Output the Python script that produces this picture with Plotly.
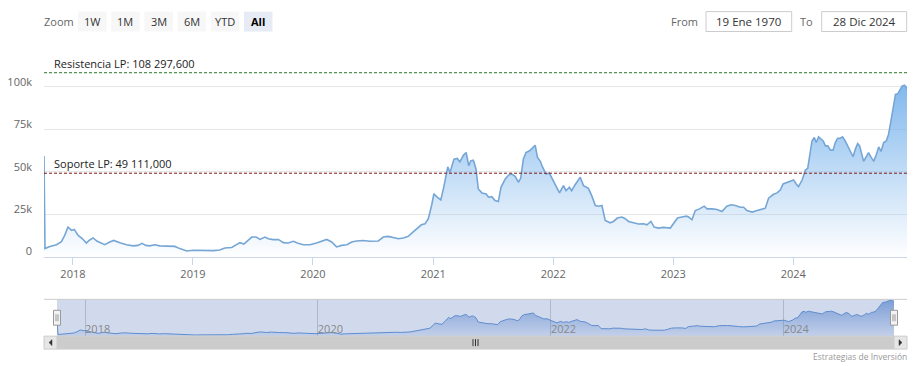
import plotly.graph_objects as go

# ---------------- data ----------------
dates = [
    "2017-10-05", "2017-10-08", "2017-10-23", "2017-11-12", "2017-11-27", "2017-12-07", "2017-12-17", "2017-12-28",
    "2018-01-05", "2018-01-17", "2018-01-30", "2018-02-11", "2018-02-19", "2018-03-03", "2018-03-16", "2018-03-26",
    "2018-04-08", "2018-04-23", "2018-05-05", "2018-05-24", "2018-06-13", "2018-07-03", "2018-07-18", "2018-07-30",
    "2018-08-11", "2018-08-23", "2018-09-07", "2018-09-22", "2018-10-13", "2018-11-07", "2018-11-22", "2018-12-13",
    "2019-01-02", "2019-01-22", "2019-02-11", "2019-03-04", "2019-03-24", "2019-04-08", "2019-04-29", "2019-05-14",
    "2019-05-24", "2019-06-05", "2019-06-15", "2019-06-29", "2019-07-12", "2019-07-24", "2019-08-08", "2019-08-18",
    "2019-09-02", "2019-09-18", "2019-10-03", "2019-10-18", "2019-11-02", "2019-11-17", "2019-12-03", "2019-12-23",
    "2020-01-12", "2020-01-28", "2020-02-12", "2020-02-27", "2020-03-13", "2020-03-28", "2020-04-13", "2020-04-28",
    "2020-05-13", "2020-06-02", "2020-06-22", "2020-07-18", "2020-08-02", "2020-08-17", "2020-09-02", "2020-09-17",
    "2020-10-02", "2020-10-17", "2020-11-01", "2020-11-16", "2020-11-26", "2020-12-07", "2020-12-17", "2020-12-27",
    "2021-01-03", "2021-01-13", "2021-01-24", "2021-02-03", "2021-02-14", "2021-02-21", "2021-03-05", "2021-03-15",
    "2021-03-23", "2021-04-03", "2021-04-11", "2021-04-19", "2021-04-25", "2021-05-03", "2021-05-11", "2021-05-18",
    "2021-05-29", "2021-06-11", "2021-06-18", "2021-06-28", "2021-07-08", "2021-07-18", "2021-07-26", "2021-08-08",
    "2021-08-18", "2021-08-28", "2021-09-07", "2021-09-17", "2021-09-24", "2021-10-02", "2021-10-10", "2021-10-21",
    "2021-10-28", "2021-11-07", "2021-11-14", "2021-11-22", "2021-11-30", "2021-12-10", "2021-12-20", "2021-12-31",
    "2022-01-10", "2022-01-20", "2022-02-01", "2022-02-09", "2022-02-19", "2022-02-26", "2022-03-08", "2022-03-24",
    "2022-04-03", "2022-04-18", "2022-04-28", "2022-05-09", "2022-05-19", "2022-05-29", "2022-06-08", "2022-06-23",
    "2022-07-03", "2022-07-15", "2022-07-29", "2022-08-08", "2022-08-18", "2022-09-02", "2022-09-17", "2022-10-03",
    "2022-10-13", "2022-10-25", "2022-11-04", "2022-11-17", "2022-12-02", "2022-12-23",
    "2023-01-02", "2023-01-14", "2023-01-27", "2023-02-10", "2023-02-17", "2023-02-27", "2023-03-09", "2023-03-22",
    "2023-04-05", "2023-04-14", "2023-04-29", "2023-05-14", "2023-05-29", "2023-06-13", "2023-06-26", "2023-07-09",
    "2023-07-24", "2023-08-03", "2023-08-13", "2023-08-29", "2023-09-13", "2023-09-28", "2023-10-08", "2023-10-18",
    "2023-11-02", "2023-11-13", "2023-11-23", "2023-12-01", "2023-12-13", "2023-12-23",
    "2024-01-02", "2024-01-10", "2024-01-17", "2024-01-28", "2024-02-07", "2024-02-14", "2024-02-20", "2024-02-27",
    "2024-03-05", "2024-03-11", "2024-03-18", "2024-03-26", "2024-04-01", "2024-04-08", "2024-04-15", "2024-04-23",
    "2024-05-01", "2024-05-08", "2024-05-15", "2024-05-23", "2024-05-30", "2024-06-07", "2024-06-17", "2024-06-25",
    "2024-07-01", "2024-07-08", "2024-07-15", "2024-07-21", "2024-07-28", "2024-08-02", "2024-08-10", "2024-08-17",
    "2024-08-25", "2024-09-02", "2024-09-10", "2024-09-17", "2024-09-24", "2024-10-02", "2024-10-10", "2024-10-17",
    "2024-10-24", "2024-10-31", "2024-11-07", "2024-11-14", "2024-11-20", "2024-11-27", "2024-12-04", "2024-12-10",
    "2024-12-12",
]
values = [
    59300, 4700, 5900, 7000, 8800, 12500, 17400, 15400,
    16000, 12500, 10500, 8000, 9500, 11000, 9000, 8200,
    7000, 8600, 9500, 8200, 7000, 6300, 6600, 7800,
    6600, 6300, 7000, 6300, 6300, 6000, 4700, 3300,
    3700, 3500, 3300, 3500, 3900, 5100, 5400, 7000,
    8200, 7400, 9000, 11500, 11500, 10100, 11500, 10500,
    10000, 10100, 8200, 8000, 9000, 7800, 7000, 7000,
    8000, 9000, 10100, 8600, 5700, 6600, 7000, 8600,
    9200, 9500, 9000, 9200, 11500, 11900, 11000, 10500,
    11000, 11900, 14500, 16800, 18700, 19300, 22300, 30100,
    37000, 35000, 33400, 41800, 52900, 49600, 57400, 57800,
    55800, 59800, 61300, 53500, 56400, 56800, 51600, 39800,
    37500, 36900, 35000, 35300, 33000, 32400, 40800, 45700,
    48000, 48600, 47300, 43800, 46100, 57400, 61300, 62300,
    63700, 65600, 58400, 56400, 52500, 48600, 49200, 44700,
    41400, 37500, 41800, 38800, 40800, 38800, 42200, 46700,
    41800, 40200, 35900, 30100, 29700, 30100, 21300, 19900,
    20700, 22700, 23300, 22300, 20700, 19900, 19200, 19300,
    18700, 20700, 17400, 16800, 17200, 16800,
    19300, 22700, 23300, 23800, 23300, 21700, 27100, 28100,
    29700, 28100, 28100, 27700, 26500, 29700, 30500, 30100,
    29100, 29100, 27100, 26200, 27100, 27700, 28500, 34400,
    36700, 37500, 39300, 42800, 43800, 44300,
    45100, 42800, 41200, 45100, 51000, 52000, 60300, 68100,
    70100, 67200, 70500, 69100, 68100, 65200, 65200, 62700,
    62700, 67200, 69700, 69700, 70500, 68100, 63900, 60300,
    58800, 63300, 66600, 65200, 60300, 56100, 58800, 61300,
    58400, 56100, 60300, 64600, 61900, 67200, 68100, 72100,
    79800, 88600, 95500, 95900, 98400, 100400, 100900, 99800,
    98400,
]

resistance_value = 108297.6
support_value = 49111.0
resistance_label = "Resistencia LP: 108 297,600"
support_label = "Soporte LP: 49 111,000"

y_tickvals = [0, 25000, 50000, 75000, 100000, 125000]
y_ticktext = ["0", "25k", "50k", "75k", "100k", ""]

zoom_label = "Zoom"
zoom_buttons = ["1W", "1M", "3M", "6M", "YTD", "All"]
selected_button = "All"
from_label, from_value = "From", "19 Ene 1970"
to_label, to_value = "To", "28 Dic 2024"
credit_text = "Estrategias de Inversión"

# ---------------- layout helpers (pixel -> paper) ----------------
W, H = 922, 366


def px(x):
    return x / W


def py(y):
    return 1 - y / H


FONT = "Open Sans, Segoe UI, Arial, sans-serif"
PLOT_L, PLOT_R, PLOT_T, PLOT_B = 44, 907, 44.6, 258
NAV_L, NAV_R, NAV_T, NAV_B = 57, 894, 301, 338
SB_T, SB_B = 338, 351

fig = go.Figure()

# main area series
fig.add_trace(go.Scatter(
    x=dates, y=values, mode="lines",
    line=dict(color="rgb(118,166,214)", width=1.6),
    fill="tozeroy",
    fillgradient=dict(type="vertical",
                      colorscale=[[0, "rgba(124,181,236,0.0)"], [1, "rgba(124,181,236,0.95)"]],
                      start=0, stop=max(values)),
    xaxis="x", yaxis="y", hoverinfo="x+y", showlegend=False,
))

# navigator series
fig.add_trace(go.Scatter(
    x=dates, y=values, mode="lines",
    line=dict(color="rgb(95,140,205)", width=1),
    fill="tozeroy",
    fillgradient=dict(type="vertical",
                      colorscale=[[0, "rgba(70,120,200,0.10)"], [1, "rgba(70,120,200,0.60)"]],
                      start=0, stop=max(values)),
    xaxis="x2", yaxis="y2", hoverinfo="skip", showlegend=False,
))

shapes = []
annotations = []

# plot lines (resistance / support)
for val, col, lab in [(resistance_value, "rgb(40,120,40)", resistance_label),
                      (support_value, "rgb(130,20,20)", support_label)]:
    shapes.append(dict(type="line", xref="paper", yref="y", x0=px(PLOT_L), x1=px(PLOT_R),
                       y0=val, y1=val, line=dict(color=col, width=1, dash="3px,2px"), layer="above"))
    annotations.append(dict(text=lab, xref="paper", yref="y", x=px(52), y=val,
                            xanchor="left", yanchor="bottom", showarrow=False, yshift=0,
                            font=dict(family=FONT, size=11, color="#222")))

# navigator background / mask
shapes.append(dict(type="rect", xref="paper", yref="paper", x0=px(NAV_L), x1=px(NAV_R),
                   y0=py(NAV_B), y1=py(NAV_T), fillcolor="rgba(102,133,194,0.3)",
                   line=dict(width=0), layer="below"))
shapes.append(dict(type="line", xref="paper", yref="paper", x0=px(PLOT_L), x1=px(PLOT_R),
                   y0=py(NAV_T), y1=py(NAV_T), line=dict(color="#cccccc", width=1)))

# navigator handles
hy = (NAV_T + NAV_B) / 2
for hx in (NAV_L, NAV_R):
    shapes.append(dict(type="rect", xref="paper", yref="paper", x0=px(hx - 3.5), x1=px(hx + 3.5),
                       y0=py(hy + 7.5), y1=py(hy - 7.5), fillcolor="#f2f2f2",
                       line=dict(color="#999999", width=1), layer="above"))
    for gx in (hx - 1, hx + 1):
        shapes.append(dict(type="line", xref="paper", yref="paper", x0=px(gx), x1=px(gx),
                           y0=py(hy + 3.5), y1=py(hy - 3.5), line=dict(color="#999999", width=1),
                           layer="above"))

# scrollbar
shapes.append(dict(type="rect", xref="paper", yref="paper", x0=px(PLOT_L), x1=px(PLOT_R),
                   y0=py(SB_B), y1=py(SB_T), fillcolor="#f2f2f2", line=dict(width=0)))
shapes.append(dict(type="rect", xref="paper", yref="paper", x0=px(NAV_L), x1=px(NAV_R),
                   y0=py(SB_B), y1=py(SB_T), fillcolor="#cccccc", line=dict(color="#cccccc", width=1)))
for bx0, bx1 in ((PLOT_L, NAV_L), (NAV_R, PLOT_R)):
    shapes.append(dict(type="rect", xref="paper", yref="paper", x0=px(bx0), x1=px(bx1),
                       y0=py(SB_B), y1=py(SB_T), fillcolor="#e6e6e6", line=dict(color="#cccccc", width=1)))
cy = (SB_T + SB_B) / 2
lx = (PLOT_L + NAV_L) / 2
rx = (NAV_R + PLOT_R) / 2
shapes.append(dict(type="path", xref="paper", yref="paper",
                   path=f"M {px(lx + 1.5)} {py(cy - 3)} L {px(lx - 1.5)} {py(cy)} L {px(lx + 1.5)} {py(cy + 3)} Z",
                   fillcolor="#333333", line=dict(color="#333333", width=0.5)))
shapes.append(dict(type="path", xref="paper", yref="paper",
                   path=f"M {px(rx - 1.5)} {py(cy - 3)} L {px(rx + 1.5)} {py(cy)} L {px(rx - 1.5)} {py(cy + 3)} Z",
                   fillcolor="#333333", line=dict(color="#333333", width=0.5)))
gcx = (NAV_L + NAV_R) / 2
for gx in (gcx - 2.5, gcx, gcx + 2.5):
    shapes.append(dict(type="line", xref="paper", yref="paper", x0=px(gx), x1=px(gx),
                       y0=py(cy + 3.5), y1=py(cy - 3.5), line=dict(color="#333333", width=1)))

# range selector (drawn)
BTN_T, BTN_B = 11.7, 31.7
btn_cy = (BTN_T + BTN_B) / 2
annotations.append(dict(text=zoom_label, xref="paper", yref="paper", x=px(42), y=py(btn_cy),
                        xanchor="left", yanchor="middle", showarrow=False,
                        font=dict(family=FONT, size=11, color="#666666")))
for i, lab in enumerate(zoom_buttons):
    x0 = 78 + i * 33.2
    sel = lab == selected_button
    shapes.append(dict(type="rect", xref="paper", yref="paper", x0=px(x0), x1=px(x0 + 28.5),
                       y0=py(BTN_B), y1=py(BTN_T), fillcolor="#e6ebf5" if sel else "#f7f7f7",
                       line=dict(width=0)))
    annotations.append(dict(text=f"<b>{lab}</b>" if sel else lab, xref="paper", yref="paper",
                            x=px(x0 + 14.25), y=py(btn_cy), xanchor="center", yanchor="middle",
                            showarrow=False,
                            font=dict(family=FONT, size=11, color="#000000" if sel else "#333333")))

for lab, lab_right, bx0, bx1, val in [(from_label, 700, 706, 791.7, from_value),
                                       (to_label, 815, 821.7, 906.7, to_value)]:
    annotations.append(dict(text=lab, xref="paper", yref="paper", x=px(lab_right), y=py(btn_cy),
                            xanchor="right", yanchor="middle", showarrow=False,
                            font=dict(family=FONT, size=11, color="#666666")))
    shapes.append(dict(type="rect", xref="paper", yref="paper", x0=px(bx0), x1=px(bx1),
                       y0=py(BTN_B), y1=py(BTN_T), fillcolor="white",
                       line=dict(color="#cccccc", width=1)))
    annotations.append(dict(text=val, xref="paper", yref="paper", x=px((bx0 + bx1) / 2), y=py(btn_cy),
                            xanchor="center", yanchor="middle", showarrow=False,
                            font=dict(family=FONT, size=11.5, color="#333333")))

# credits
annotations.append(dict(text=credit_text, xref="paper", yref="paper", x=px(909), y=py(358),
                        xanchor="right", yanchor="middle", showarrow=False,
                        font=dict(family=FONT, size=8.5, color="#999999")))

fig.update_layout(
    width=W, height=H, autosize=False,
    margin=dict(l=0, r=0, t=0, b=0),
    paper_bgcolor="white", plot_bgcolor="white",
    showlegend=False,
    font=dict(family=FONT, size=11, color="#666666"),
    xaxis=dict(
        domain=[px(PLOT_L), px(PLOT_R)], anchor="y", type="date",
        range=[dates[0], dates[-1]],
        tick0="2018-01-01", dtick="M12", tickformat="%Y",
        showgrid=False, zeroline=False,
        showline=True, linecolor="#ccd6eb", linewidth=1,
        ticks="outside", ticklen=7, tickcolor="#ccd6eb",
        tickfont=dict(family=FONT, size=11, color="#666666"),
    ),
    yaxis=dict(
        domain=[py(PLOT_B), py(PLOT_T)], anchor="x",
        range=[0, 125000],
        tickvals=y_tickvals, ticktext=y_ticktext,
        showgrid=True, gridcolor="#e6e6e6", gridwidth=1,
        zeroline=False, showline=False,
        ticklabelshift=-5, ticklabelstandoff=11,
        tickfont=dict(family=FONT, size=11, color="#666666"),
    ),
    xaxis2=dict(
        domain=[px(NAV_L), px(NAV_R)], anchor="y2", type="date",
        range=[dates[0], dates[-1]],
        tick0="2018-01-01", dtick="M24", tickformat="%Y",
        showgrid=True, gridcolor="rgba(110,120,140,0.35)", gridwidth=1,
        zeroline=False, showline=False, ticks="",
        ticklabelposition="inside right", ticklabelstandoff=-5,
        tickfont=dict(family=FONT, size=11, color="#888888"),
    ),
    yaxis2=dict(
        domain=[py(NAV_B), py(NAV_T)], anchor="x2",
        range=[0, 104000],
        showgrid=False, zeroline=False, showline=False, showticklabels=False, ticks="",
    ),
    shapes=shapes,
    annotations=annotations,
)

post = (
    "var s=document.createElement('style');"
    "s.textContent='html,body{margin:0;padding:0;overflow:hidden;width:922px;height:366px;}';"
    "document.head.appendChild(s);"
)

fig.write_html(
    "out.html",
    config={"displayModeBar": False, "responsive": False},
    post_script=post,
)
